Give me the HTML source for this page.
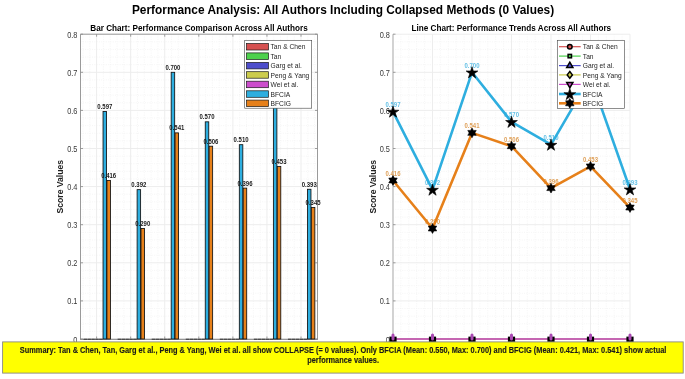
<!DOCTYPE html><html><head><meta charset="utf-8"><style>html,body{margin:0;padding:0;background:#fff;overflow:hidden;}svg{display:block;}text{font-family:"Liberation Sans",sans-serif;}</style></head><body><svg width="685" height="379" viewBox="0 0 685 379"><rect width="685" height="379" fill="#fff"/><defs><filter id="bl" x="0" y="0" width="1" height="1" color-interpolation-filters="sRGB"><feGaussianBlur stdDeviation="0.35"/></filter></defs><g filter="url(#bl)"><g transform="translate(343.00 13.80) scale(1 1.12)"><text x="0" y="0" font-size="11.9" font-weight="bold" text-anchor="middle" fill="#000">Performance Analysis: All Authors Including Collapsed Methods (0 Values)</text></g><g transform="translate(199.00 31.40) scale(1 1.12)"><text x="0" y="0" font-size="8.18" font-weight="bold" text-anchor="middle" fill="#000">Bar Chart: Performance Comparison Across All Authors</text></g><line x1="80.5" y1="331.38" x2="317.5" y2="331.38" stroke="#f4f4f4" stroke-width="0.9" stroke-dasharray="1 1.3"/><line x1="80.5" y1="323.76" x2="317.5" y2="323.76" stroke="#f4f4f4" stroke-width="0.9" stroke-dasharray="1 1.3"/><line x1="80.5" y1="316.14" x2="317.5" y2="316.14" stroke="#f4f4f4" stroke-width="0.9" stroke-dasharray="1 1.3"/><line x1="80.5" y1="308.52" x2="317.5" y2="308.52" stroke="#f4f4f4" stroke-width="0.9" stroke-dasharray="1 1.3"/><line x1="80.5" y1="293.28" x2="317.5" y2="293.28" stroke="#f4f4f4" stroke-width="0.9" stroke-dasharray="1 1.3"/><line x1="80.5" y1="285.66" x2="317.5" y2="285.66" stroke="#f4f4f4" stroke-width="0.9" stroke-dasharray="1 1.3"/><line x1="80.5" y1="278.04" x2="317.5" y2="278.04" stroke="#f4f4f4" stroke-width="0.9" stroke-dasharray="1 1.3"/><line x1="80.5" y1="270.42" x2="317.5" y2="270.42" stroke="#f4f4f4" stroke-width="0.9" stroke-dasharray="1 1.3"/><line x1="80.5" y1="255.18" x2="317.5" y2="255.18" stroke="#f4f4f4" stroke-width="0.9" stroke-dasharray="1 1.3"/><line x1="80.5" y1="247.56" x2="317.5" y2="247.56" stroke="#f4f4f4" stroke-width="0.9" stroke-dasharray="1 1.3"/><line x1="80.5" y1="239.94" x2="317.5" y2="239.94" stroke="#f4f4f4" stroke-width="0.9" stroke-dasharray="1 1.3"/><line x1="80.5" y1="232.32" x2="317.5" y2="232.32" stroke="#f4f4f4" stroke-width="0.9" stroke-dasharray="1 1.3"/><line x1="80.5" y1="217.08" x2="317.5" y2="217.08" stroke="#f4f4f4" stroke-width="0.9" stroke-dasharray="1 1.3"/><line x1="80.5" y1="209.46" x2="317.5" y2="209.46" stroke="#f4f4f4" stroke-width="0.9" stroke-dasharray="1 1.3"/><line x1="80.5" y1="201.84" x2="317.5" y2="201.84" stroke="#f4f4f4" stroke-width="0.9" stroke-dasharray="1 1.3"/><line x1="80.5" y1="194.22" x2="317.5" y2="194.22" stroke="#f4f4f4" stroke-width="0.9" stroke-dasharray="1 1.3"/><line x1="80.5" y1="178.98" x2="317.5" y2="178.98" stroke="#f4f4f4" stroke-width="0.9" stroke-dasharray="1 1.3"/><line x1="80.5" y1="171.36" x2="317.5" y2="171.36" stroke="#f4f4f4" stroke-width="0.9" stroke-dasharray="1 1.3"/><line x1="80.5" y1="163.74" x2="317.5" y2="163.74" stroke="#f4f4f4" stroke-width="0.9" stroke-dasharray="1 1.3"/><line x1="80.5" y1="156.12" x2="317.5" y2="156.12" stroke="#f4f4f4" stroke-width="0.9" stroke-dasharray="1 1.3"/><line x1="80.5" y1="140.88" x2="317.5" y2="140.88" stroke="#f4f4f4" stroke-width="0.9" stroke-dasharray="1 1.3"/><line x1="80.5" y1="133.26" x2="317.5" y2="133.26" stroke="#f4f4f4" stroke-width="0.9" stroke-dasharray="1 1.3"/><line x1="80.5" y1="125.64" x2="317.5" y2="125.64" stroke="#f4f4f4" stroke-width="0.9" stroke-dasharray="1 1.3"/><line x1="80.5" y1="118.02" x2="317.5" y2="118.02" stroke="#f4f4f4" stroke-width="0.9" stroke-dasharray="1 1.3"/><line x1="80.5" y1="102.78" x2="317.5" y2="102.78" stroke="#f4f4f4" stroke-width="0.9" stroke-dasharray="1 1.3"/><line x1="80.5" y1="95.16" x2="317.5" y2="95.16" stroke="#f4f4f4" stroke-width="0.9" stroke-dasharray="1 1.3"/><line x1="80.5" y1="87.54" x2="317.5" y2="87.54" stroke="#f4f4f4" stroke-width="0.9" stroke-dasharray="1 1.3"/><line x1="80.5" y1="79.92" x2="317.5" y2="79.92" stroke="#f4f4f4" stroke-width="0.9" stroke-dasharray="1 1.3"/><line x1="80.5" y1="64.68" x2="317.5" y2="64.68" stroke="#f4f4f4" stroke-width="0.9" stroke-dasharray="1 1.3"/><line x1="80.5" y1="57.06" x2="317.5" y2="57.06" stroke="#f4f4f4" stroke-width="0.9" stroke-dasharray="1 1.3"/><line x1="80.5" y1="49.44" x2="317.5" y2="49.44" stroke="#f4f4f4" stroke-width="0.9" stroke-dasharray="1 1.3"/><line x1="80.5" y1="41.82" x2="317.5" y2="41.82" stroke="#f4f4f4" stroke-width="0.9" stroke-dasharray="1 1.3"/><line x1="82.97" y1="34.19999999999999" x2="82.97" y2="339.0" stroke="#f4f4f4" stroke-width="0.9" stroke-dasharray="1 1.3"/><line x1="89.79" y1="34.19999999999999" x2="89.79" y2="339.0" stroke="#f4f4f4" stroke-width="0.9" stroke-dasharray="1 1.3"/><line x1="103.41" y1="34.19999999999999" x2="103.41" y2="339.0" stroke="#f4f4f4" stroke-width="0.9" stroke-dasharray="1 1.3"/><line x1="110.23" y1="34.19999999999999" x2="110.23" y2="339.0" stroke="#f4f4f4" stroke-width="0.9" stroke-dasharray="1 1.3"/><line x1="117.04" y1="34.19999999999999" x2="117.04" y2="339.0" stroke="#f4f4f4" stroke-width="0.9" stroke-dasharray="1 1.3"/><line x1="123.86" y1="34.19999999999999" x2="123.86" y2="339.0" stroke="#f4f4f4" stroke-width="0.9" stroke-dasharray="1 1.3"/><line x1="137.48" y1="34.19999999999999" x2="137.48" y2="339.0" stroke="#f4f4f4" stroke-width="0.9" stroke-dasharray="1 1.3"/><line x1="144.30" y1="34.19999999999999" x2="144.30" y2="339.0" stroke="#f4f4f4" stroke-width="0.9" stroke-dasharray="1 1.3"/><line x1="151.11" y1="34.19999999999999" x2="151.11" y2="339.0" stroke="#f4f4f4" stroke-width="0.9" stroke-dasharray="1 1.3"/><line x1="157.93" y1="34.19999999999999" x2="157.93" y2="339.0" stroke="#f4f4f4" stroke-width="0.9" stroke-dasharray="1 1.3"/><line x1="171.55" y1="34.19999999999999" x2="171.55" y2="339.0" stroke="#f4f4f4" stroke-width="0.9" stroke-dasharray="1 1.3"/><line x1="178.37" y1="34.19999999999999" x2="178.37" y2="339.0" stroke="#f4f4f4" stroke-width="0.9" stroke-dasharray="1 1.3"/><line x1="185.18" y1="34.19999999999999" x2="185.18" y2="339.0" stroke="#f4f4f4" stroke-width="0.9" stroke-dasharray="1 1.3"/><line x1="192.00" y1="34.19999999999999" x2="192.00" y2="339.0" stroke="#f4f4f4" stroke-width="0.9" stroke-dasharray="1 1.3"/><line x1="205.62" y1="34.19999999999999" x2="205.62" y2="339.0" stroke="#f4f4f4" stroke-width="0.9" stroke-dasharray="1 1.3"/><line x1="212.44" y1="34.19999999999999" x2="212.44" y2="339.0" stroke="#f4f4f4" stroke-width="0.9" stroke-dasharray="1 1.3"/><line x1="219.25" y1="34.19999999999999" x2="219.25" y2="339.0" stroke="#f4f4f4" stroke-width="0.9" stroke-dasharray="1 1.3"/><line x1="226.07" y1="34.19999999999999" x2="226.07" y2="339.0" stroke="#f4f4f4" stroke-width="0.9" stroke-dasharray="1 1.3"/><line x1="239.69" y1="34.19999999999999" x2="239.69" y2="339.0" stroke="#f4f4f4" stroke-width="0.9" stroke-dasharray="1 1.3"/><line x1="246.51" y1="34.19999999999999" x2="246.51" y2="339.0" stroke="#f4f4f4" stroke-width="0.9" stroke-dasharray="1 1.3"/><line x1="253.32" y1="34.19999999999999" x2="253.32" y2="339.0" stroke="#f4f4f4" stroke-width="0.9" stroke-dasharray="1 1.3"/><line x1="260.14" y1="34.19999999999999" x2="260.14" y2="339.0" stroke="#f4f4f4" stroke-width="0.9" stroke-dasharray="1 1.3"/><line x1="273.76" y1="34.19999999999999" x2="273.76" y2="339.0" stroke="#f4f4f4" stroke-width="0.9" stroke-dasharray="1 1.3"/><line x1="280.58" y1="34.19999999999999" x2="280.58" y2="339.0" stroke="#f4f4f4" stroke-width="0.9" stroke-dasharray="1 1.3"/><line x1="287.39" y1="34.19999999999999" x2="287.39" y2="339.0" stroke="#f4f4f4" stroke-width="0.9" stroke-dasharray="1 1.3"/><line x1="294.21" y1="34.19999999999999" x2="294.21" y2="339.0" stroke="#f4f4f4" stroke-width="0.9" stroke-dasharray="1 1.3"/><line x1="307.83" y1="34.19999999999999" x2="307.83" y2="339.0" stroke="#f4f4f4" stroke-width="0.9" stroke-dasharray="1 1.3"/><line x1="314.65" y1="34.19999999999999" x2="314.65" y2="339.0" stroke="#f4f4f4" stroke-width="0.9" stroke-dasharray="1 1.3"/><line x1="80.5" y1="339.00" x2="317.5" y2="339.00" stroke="#ededed" stroke-width="1"/><line x1="80.5" y1="300.90" x2="317.5" y2="300.90" stroke="#ededed" stroke-width="1"/><line x1="80.5" y1="262.80" x2="317.5" y2="262.80" stroke="#ededed" stroke-width="1"/><line x1="80.5" y1="224.70" x2="317.5" y2="224.70" stroke="#ededed" stroke-width="1"/><line x1="80.5" y1="186.60" x2="317.5" y2="186.60" stroke="#ededed" stroke-width="1"/><line x1="80.5" y1="148.50" x2="317.5" y2="148.50" stroke="#ededed" stroke-width="1"/><line x1="80.5" y1="110.40" x2="317.5" y2="110.40" stroke="#ededed" stroke-width="1"/><line x1="80.5" y1="72.30" x2="317.5" y2="72.30" stroke="#ededed" stroke-width="1"/><line x1="80.5" y1="34.20" x2="317.5" y2="34.20" stroke="#ededed" stroke-width="1"/><line x1="96.60" y1="34.19999999999999" x2="96.60" y2="339.0" stroke="#ededed" stroke-width="1"/><line x1="130.67" y1="34.19999999999999" x2="130.67" y2="339.0" stroke="#ededed" stroke-width="1"/><line x1="164.74" y1="34.19999999999999" x2="164.74" y2="339.0" stroke="#ededed" stroke-width="1"/><line x1="198.81" y1="34.19999999999999" x2="198.81" y2="339.0" stroke="#ededed" stroke-width="1"/><line x1="232.88" y1="34.19999999999999" x2="232.88" y2="339.0" stroke="#ededed" stroke-width="1"/><line x1="266.95" y1="34.19999999999999" x2="266.95" y2="339.0" stroke="#ededed" stroke-width="1"/><line x1="301.02" y1="34.19999999999999" x2="301.02" y2="339.0" stroke="#ededed" stroke-width="1"/><path d="M80.5 34.19999999999999 V339.0 M317.5 339.0 V34.19999999999999 H80.5" fill="none" stroke="#9a9a9a" stroke-width="1"/><line x1="80.0" y1="339.3" x2="318.0" y2="339.3" stroke="#555" stroke-width="0.75"/><line x1="83.57" y1="339.2" x2="87.07" y2="339.2" stroke="#222" stroke-width="0.9"/><line x1="87.46" y1="339.2" x2="90.96" y2="339.2" stroke="#222" stroke-width="0.9"/><line x1="91.35" y1="339.2" x2="94.86" y2="339.2" stroke="#222" stroke-width="0.9"/><line x1="95.25" y1="339.2" x2="98.75" y2="339.2" stroke="#222" stroke-width="0.9"/><line x1="99.14" y1="339.2" x2="102.65" y2="339.2" stroke="#222" stroke-width="0.9"/><rect x="103.04" y="111.54" width="3.50" height="227.46" fill="#2eaedf" stroke="#111" stroke-width="0.85"/><rect x="106.93" y="180.50" width="3.50" height="158.50" fill="#e6801a" stroke="#111" stroke-width="0.85"/><line x1="117.64" y1="339.2" x2="121.14" y2="339.2" stroke="#222" stroke-width="0.9"/><line x1="121.53" y1="339.2" x2="125.03" y2="339.2" stroke="#222" stroke-width="0.9"/><line x1="125.42" y1="339.2" x2="128.93" y2="339.2" stroke="#222" stroke-width="0.9"/><line x1="129.32" y1="339.2" x2="132.82" y2="339.2" stroke="#222" stroke-width="0.9"/><line x1="133.21" y1="339.2" x2="136.72" y2="339.2" stroke="#222" stroke-width="0.9"/><rect x="137.11" y="189.65" width="3.50" height="149.35" fill="#2eaedf" stroke="#111" stroke-width="0.85"/><rect x="141.00" y="228.51" width="3.50" height="110.49" fill="#e6801a" stroke="#111" stroke-width="0.85"/><line x1="151.71" y1="339.2" x2="155.21" y2="339.2" stroke="#222" stroke-width="0.9"/><line x1="155.60" y1="339.2" x2="159.10" y2="339.2" stroke="#222" stroke-width="0.9"/><line x1="159.49" y1="339.2" x2="163.00" y2="339.2" stroke="#222" stroke-width="0.9"/><line x1="163.39" y1="339.2" x2="166.89" y2="339.2" stroke="#222" stroke-width="0.9"/><line x1="167.28" y1="339.2" x2="170.79" y2="339.2" stroke="#222" stroke-width="0.9"/><rect x="171.18" y="72.30" width="3.50" height="266.70" fill="#2eaedf" stroke="#111" stroke-width="0.85"/><rect x="175.07" y="132.88" width="3.50" height="206.12" fill="#e6801a" stroke="#111" stroke-width="0.85"/><line x1="185.78" y1="339.2" x2="189.28" y2="339.2" stroke="#222" stroke-width="0.9"/><line x1="189.67" y1="339.2" x2="193.17" y2="339.2" stroke="#222" stroke-width="0.9"/><line x1="193.56" y1="339.2" x2="197.07" y2="339.2" stroke="#222" stroke-width="0.9"/><line x1="197.46" y1="339.2" x2="200.96" y2="339.2" stroke="#222" stroke-width="0.9"/><line x1="201.35" y1="339.2" x2="204.86" y2="339.2" stroke="#222" stroke-width="0.9"/><rect x="205.25" y="121.83" width="3.50" height="217.17" fill="#2eaedf" stroke="#111" stroke-width="0.85"/><rect x="209.14" y="146.21" width="3.50" height="192.79" fill="#e6801a" stroke="#111" stroke-width="0.85"/><line x1="219.85" y1="339.2" x2="223.35" y2="339.2" stroke="#222" stroke-width="0.9"/><line x1="223.74" y1="339.2" x2="227.24" y2="339.2" stroke="#222" stroke-width="0.9"/><line x1="227.63" y1="339.2" x2="231.14" y2="339.2" stroke="#222" stroke-width="0.9"/><line x1="231.53" y1="339.2" x2="235.03" y2="339.2" stroke="#222" stroke-width="0.9"/><line x1="235.42" y1="339.2" x2="238.93" y2="339.2" stroke="#222" stroke-width="0.9"/><rect x="239.32" y="144.69" width="3.50" height="194.31" fill="#2eaedf" stroke="#111" stroke-width="0.85"/><rect x="243.21" y="188.12" width="3.50" height="150.88" fill="#e6801a" stroke="#111" stroke-width="0.85"/><line x1="253.92" y1="339.2" x2="257.42" y2="339.2" stroke="#222" stroke-width="0.9"/><line x1="257.81" y1="339.2" x2="261.31" y2="339.2" stroke="#222" stroke-width="0.9"/><line x1="261.70" y1="339.2" x2="265.21" y2="339.2" stroke="#222" stroke-width="0.9"/><line x1="265.60" y1="339.2" x2="269.10" y2="339.2" stroke="#222" stroke-width="0.9"/><line x1="269.49" y1="339.2" x2="273.00" y2="339.2" stroke="#222" stroke-width="0.9"/><rect x="273.39" y="76.87" width="3.50" height="262.13" fill="#2eaedf" stroke="#111" stroke-width="0.85"/><rect x="277.28" y="166.41" width="3.50" height="172.59" fill="#e6801a" stroke="#111" stroke-width="0.85"/><line x1="287.99" y1="339.2" x2="291.49" y2="339.2" stroke="#222" stroke-width="0.9"/><line x1="291.88" y1="339.2" x2="295.38" y2="339.2" stroke="#222" stroke-width="0.9"/><line x1="295.77" y1="339.2" x2="299.28" y2="339.2" stroke="#222" stroke-width="0.9"/><line x1="299.67" y1="339.2" x2="303.17" y2="339.2" stroke="#222" stroke-width="0.9"/><line x1="303.56" y1="339.2" x2="307.07" y2="339.2" stroke="#222" stroke-width="0.9"/><rect x="307.46" y="189.27" width="3.50" height="149.73" fill="#2eaedf" stroke="#111" stroke-width="0.85"/><rect x="311.35" y="207.56" width="3.50" height="131.44" fill="#e6801a" stroke="#111" stroke-width="0.85"/><g transform="translate(104.79 108.94) scale(1 1.12)"><text x="0" y="0" font-size="6.0" font-weight="bold" text-anchor="middle" fill="#1a1a1a">0.597</text></g><g transform="translate(108.68 177.90) scale(1 1.12)"><text x="0" y="0" font-size="6.0" font-weight="bold" text-anchor="middle" fill="#1a1a1a">0.416</text></g><g transform="translate(138.86 187.05) scale(1 1.12)"><text x="0" y="0" font-size="6.0" font-weight="bold" text-anchor="middle" fill="#1a1a1a">0.392</text></g><g transform="translate(142.75 225.91) scale(1 1.12)"><text x="0" y="0" font-size="6.0" font-weight="bold" text-anchor="middle" fill="#1a1a1a">0.290</text></g><g transform="translate(172.93 69.70) scale(1 1.12)"><text x="0" y="0" font-size="6.0" font-weight="bold" text-anchor="middle" fill="#1a1a1a">0.700</text></g><g transform="translate(176.82 130.28) scale(1 1.12)"><text x="0" y="0" font-size="6.0" font-weight="bold" text-anchor="middle" fill="#1a1a1a">0.541</text></g><g transform="translate(207.00 119.23) scale(1 1.12)"><text x="0" y="0" font-size="6.0" font-weight="bold" text-anchor="middle" fill="#1a1a1a">0.570</text></g><g transform="translate(210.89 143.61) scale(1 1.12)"><text x="0" y="0" font-size="6.0" font-weight="bold" text-anchor="middle" fill="#1a1a1a">0.506</text></g><g transform="translate(241.07 142.09) scale(1 1.12)"><text x="0" y="0" font-size="6.0" font-weight="bold" text-anchor="middle" fill="#1a1a1a">0.510</text></g><g transform="translate(244.96 185.52) scale(1 1.12)"><text x="0" y="0" font-size="6.0" font-weight="bold" text-anchor="middle" fill="#1a1a1a">0.396</text></g><g transform="translate(275.14 74.27) scale(1 1.12)"><text x="0" y="0" font-size="6.0" font-weight="bold" text-anchor="middle" fill="#1a1a1a">0.688</text></g><g transform="translate(279.03 163.81) scale(1 1.12)"><text x="0" y="0" font-size="6.0" font-weight="bold" text-anchor="middle" fill="#1a1a1a">0.453</text></g><g transform="translate(309.21 186.67) scale(1 1.12)"><text x="0" y="0" font-size="6.0" font-weight="bold" text-anchor="middle" fill="#1a1a1a">0.393</text></g><g transform="translate(313.10 204.96) scale(1 1.12)"><text x="0" y="0" font-size="6.0" font-weight="bold" text-anchor="middle" fill="#1a1a1a">0.345</text></g><line x1="80.5" y1="339.00" x2="83.0" y2="339.00" stroke="#888" stroke-width="0.8"/><line x1="317.5" y1="339.00" x2="315.0" y2="339.00" stroke="#888" stroke-width="0.8"/><g transform="translate(77.40 342.50) scale(1 1.12)"><text x="0" y="0" font-size="7.4" font-weight="normal" text-anchor="end" fill="#383838">0</text></g><line x1="80.5" y1="300.90" x2="83.0" y2="300.90" stroke="#888" stroke-width="0.8"/><line x1="317.5" y1="300.90" x2="315.0" y2="300.90" stroke="#888" stroke-width="0.8"/><g transform="translate(77.40 304.40) scale(1 1.12)"><text x="0" y="0" font-size="7.4" font-weight="normal" text-anchor="end" fill="#383838">0.1</text></g><line x1="80.5" y1="262.80" x2="83.0" y2="262.80" stroke="#888" stroke-width="0.8"/><line x1="317.5" y1="262.80" x2="315.0" y2="262.80" stroke="#888" stroke-width="0.8"/><g transform="translate(77.40 266.30) scale(1 1.12)"><text x="0" y="0" font-size="7.4" font-weight="normal" text-anchor="end" fill="#383838">0.2</text></g><line x1="80.5" y1="224.70" x2="83.0" y2="224.70" stroke="#888" stroke-width="0.8"/><line x1="317.5" y1="224.70" x2="315.0" y2="224.70" stroke="#888" stroke-width="0.8"/><g transform="translate(77.40 228.20) scale(1 1.12)"><text x="0" y="0" font-size="7.4" font-weight="normal" text-anchor="end" fill="#383838">0.3</text></g><line x1="80.5" y1="186.60" x2="83.0" y2="186.60" stroke="#888" stroke-width="0.8"/><line x1="317.5" y1="186.60" x2="315.0" y2="186.60" stroke="#888" stroke-width="0.8"/><g transform="translate(77.40 190.10) scale(1 1.12)"><text x="0" y="0" font-size="7.4" font-weight="normal" text-anchor="end" fill="#383838">0.4</text></g><line x1="80.5" y1="148.50" x2="83.0" y2="148.50" stroke="#888" stroke-width="0.8"/><line x1="317.5" y1="148.50" x2="315.0" y2="148.50" stroke="#888" stroke-width="0.8"/><g transform="translate(77.40 152.00) scale(1 1.12)"><text x="0" y="0" font-size="7.4" font-weight="normal" text-anchor="end" fill="#383838">0.5</text></g><line x1="80.5" y1="110.40" x2="83.0" y2="110.40" stroke="#888" stroke-width="0.8"/><line x1="317.5" y1="110.40" x2="315.0" y2="110.40" stroke="#888" stroke-width="0.8"/><g transform="translate(77.40 113.90) scale(1 1.12)"><text x="0" y="0" font-size="7.4" font-weight="normal" text-anchor="end" fill="#383838">0.6</text></g><line x1="80.5" y1="72.30" x2="83.0" y2="72.30" stroke="#888" stroke-width="0.8"/><line x1="317.5" y1="72.30" x2="315.0" y2="72.30" stroke="#888" stroke-width="0.8"/><g transform="translate(77.40 75.80) scale(1 1.12)"><text x="0" y="0" font-size="7.4" font-weight="normal" text-anchor="end" fill="#383838">0.7</text></g><line x1="80.5" y1="34.20" x2="83.0" y2="34.20" stroke="#888" stroke-width="0.8"/><line x1="317.5" y1="34.20" x2="315.0" y2="34.20" stroke="#888" stroke-width="0.8"/><g transform="translate(77.40 37.70) scale(1 1.12)"><text x="0" y="0" font-size="7.4" font-weight="normal" text-anchor="end" fill="#383838">0.8</text></g><line x1="96.60" y1="34.19999999999999" x2="96.60" y2="36.69999999999999" stroke="#888" stroke-width="0.8"/><line x1="96.60" y1="339.0" x2="96.60" y2="336.5" stroke="#888" stroke-width="0.8"/><line x1="130.67" y1="34.19999999999999" x2="130.67" y2="36.69999999999999" stroke="#888" stroke-width="0.8"/><line x1="130.67" y1="339.0" x2="130.67" y2="336.5" stroke="#888" stroke-width="0.8"/><line x1="164.74" y1="34.19999999999999" x2="164.74" y2="36.69999999999999" stroke="#888" stroke-width="0.8"/><line x1="164.74" y1="339.0" x2="164.74" y2="336.5" stroke="#888" stroke-width="0.8"/><line x1="198.81" y1="34.19999999999999" x2="198.81" y2="36.69999999999999" stroke="#888" stroke-width="0.8"/><line x1="198.81" y1="339.0" x2="198.81" y2="336.5" stroke="#888" stroke-width="0.8"/><line x1="232.88" y1="34.19999999999999" x2="232.88" y2="36.69999999999999" stroke="#888" stroke-width="0.8"/><line x1="232.88" y1="339.0" x2="232.88" y2="336.5" stroke="#888" stroke-width="0.8"/><line x1="266.95" y1="34.19999999999999" x2="266.95" y2="36.69999999999999" stroke="#888" stroke-width="0.8"/><line x1="266.95" y1="339.0" x2="266.95" y2="336.5" stroke="#888" stroke-width="0.8"/><line x1="301.02" y1="34.19999999999999" x2="301.02" y2="36.69999999999999" stroke="#888" stroke-width="0.8"/><line x1="301.02" y1="339.0" x2="301.02" y2="336.5" stroke="#888" stroke-width="0.8"/><g transform="translate(63.10 186.70) rotate(-90) scale(1.0 1)"><text x="0" y="0" font-size="8.6" font-weight="bold" text-anchor="middle" fill="#222">Score Values</text></g><rect x="244.7" y="40.3" width="67.0" height="67.9" fill="#fff" stroke="#444" stroke-width="0.6"/><rect x="246.5" y="43.50" width="22" height="6.5" fill="#d65151" stroke="#1a1a1a" stroke-width="0.7"/><g transform="translate(270.50 49.30) scale(1 1.12)"><text x="0" y="0" font-size="6.7" font-weight="normal" text-anchor="start" fill="#1e1e1e">Tan &amp; Chen</text></g><rect x="246.5" y="52.90" width="22" height="6.5" fill="#4dd14d" stroke="#1a1a1a" stroke-width="0.7"/><g transform="translate(270.50 58.70) scale(1 1.12)"><text x="0" y="0" font-size="6.7" font-weight="normal" text-anchor="start" fill="#1e1e1e">Tan</text></g><rect x="246.5" y="62.40" width="22" height="6.5" fill="#4d4dcc" stroke="#1a1a1a" stroke-width="0.7"/><g transform="translate(270.50 68.20) scale(1 1.12)"><text x="0" y="0" font-size="6.7" font-weight="normal" text-anchor="start" fill="#1e1e1e">Garg et al.</text></g><rect x="246.5" y="71.70" width="22" height="6.5" fill="#cccc4d" stroke="#1a1a1a" stroke-width="0.7"/><g transform="translate(270.50 77.50) scale(1 1.12)"><text x="0" y="0" font-size="6.7" font-weight="normal" text-anchor="start" fill="#1e1e1e">Peng &amp; Yang</text></g><rect x="246.5" y="81.20" width="22" height="6.5" fill="#cc4dcc" stroke="#1a1a1a" stroke-width="0.7"/><g transform="translate(270.50 87.00) scale(1 1.12)"><text x="0" y="0" font-size="6.7" font-weight="normal" text-anchor="start" fill="#1e1e1e">Wei et al.</text></g><rect x="246.5" y="90.80" width="22" height="6.5" fill="#2eaedf" stroke="#1a1a1a" stroke-width="0.7"/><g transform="translate(270.50 96.60) scale(1 1.12)"><text x="0" y="0" font-size="6.7" font-weight="normal" text-anchor="start" fill="#1e1e1e">BFCIA</text></g><rect x="246.5" y="100.10" width="22" height="6.5" fill="#e6801a" stroke="#1a1a1a" stroke-width="0.7"/><g transform="translate(270.50 105.90) scale(1 1.12)"><text x="0" y="0" font-size="6.7" font-weight="normal" text-anchor="start" fill="#1e1e1e">BFCIG</text></g><g transform="translate(511.30 31.40) scale(1 1.12)"><text x="0" y="0" font-size="8.18" font-weight="bold" text-anchor="middle" fill="#000">Line Chart: Performance Trends Across All Authors</text></g><line x1="393.0" y1="331.38" x2="630.0" y2="331.38" stroke="#f4f4f4" stroke-width="0.9" stroke-dasharray="1 1.3"/><line x1="393.0" y1="323.76" x2="630.0" y2="323.76" stroke="#f4f4f4" stroke-width="0.9" stroke-dasharray="1 1.3"/><line x1="393.0" y1="316.14" x2="630.0" y2="316.14" stroke="#f4f4f4" stroke-width="0.9" stroke-dasharray="1 1.3"/><line x1="393.0" y1="308.52" x2="630.0" y2="308.52" stroke="#f4f4f4" stroke-width="0.9" stroke-dasharray="1 1.3"/><line x1="393.0" y1="293.28" x2="630.0" y2="293.28" stroke="#f4f4f4" stroke-width="0.9" stroke-dasharray="1 1.3"/><line x1="393.0" y1="285.66" x2="630.0" y2="285.66" stroke="#f4f4f4" stroke-width="0.9" stroke-dasharray="1 1.3"/><line x1="393.0" y1="278.04" x2="630.0" y2="278.04" stroke="#f4f4f4" stroke-width="0.9" stroke-dasharray="1 1.3"/><line x1="393.0" y1="270.42" x2="630.0" y2="270.42" stroke="#f4f4f4" stroke-width="0.9" stroke-dasharray="1 1.3"/><line x1="393.0" y1="255.18" x2="630.0" y2="255.18" stroke="#f4f4f4" stroke-width="0.9" stroke-dasharray="1 1.3"/><line x1="393.0" y1="247.56" x2="630.0" y2="247.56" stroke="#f4f4f4" stroke-width="0.9" stroke-dasharray="1 1.3"/><line x1="393.0" y1="239.94" x2="630.0" y2="239.94" stroke="#f4f4f4" stroke-width="0.9" stroke-dasharray="1 1.3"/><line x1="393.0" y1="232.32" x2="630.0" y2="232.32" stroke="#f4f4f4" stroke-width="0.9" stroke-dasharray="1 1.3"/><line x1="393.0" y1="217.08" x2="630.0" y2="217.08" stroke="#f4f4f4" stroke-width="0.9" stroke-dasharray="1 1.3"/><line x1="393.0" y1="209.46" x2="630.0" y2="209.46" stroke="#f4f4f4" stroke-width="0.9" stroke-dasharray="1 1.3"/><line x1="393.0" y1="201.84" x2="630.0" y2="201.84" stroke="#f4f4f4" stroke-width="0.9" stroke-dasharray="1 1.3"/><line x1="393.0" y1="194.22" x2="630.0" y2="194.22" stroke="#f4f4f4" stroke-width="0.9" stroke-dasharray="1 1.3"/><line x1="393.0" y1="178.98" x2="630.0" y2="178.98" stroke="#f4f4f4" stroke-width="0.9" stroke-dasharray="1 1.3"/><line x1="393.0" y1="171.36" x2="630.0" y2="171.36" stroke="#f4f4f4" stroke-width="0.9" stroke-dasharray="1 1.3"/><line x1="393.0" y1="163.74" x2="630.0" y2="163.74" stroke="#f4f4f4" stroke-width="0.9" stroke-dasharray="1 1.3"/><line x1="393.0" y1="156.12" x2="630.0" y2="156.12" stroke="#f4f4f4" stroke-width="0.9" stroke-dasharray="1 1.3"/><line x1="393.0" y1="140.88" x2="630.0" y2="140.88" stroke="#f4f4f4" stroke-width="0.9" stroke-dasharray="1 1.3"/><line x1="393.0" y1="133.26" x2="630.0" y2="133.26" stroke="#f4f4f4" stroke-width="0.9" stroke-dasharray="1 1.3"/><line x1="393.0" y1="125.64" x2="630.0" y2="125.64" stroke="#f4f4f4" stroke-width="0.9" stroke-dasharray="1 1.3"/><line x1="393.0" y1="118.02" x2="630.0" y2="118.02" stroke="#f4f4f4" stroke-width="0.9" stroke-dasharray="1 1.3"/><line x1="393.0" y1="102.78" x2="630.0" y2="102.78" stroke="#f4f4f4" stroke-width="0.9" stroke-dasharray="1 1.3"/><line x1="393.0" y1="95.16" x2="630.0" y2="95.16" stroke="#f4f4f4" stroke-width="0.9" stroke-dasharray="1 1.3"/><line x1="393.0" y1="87.54" x2="630.0" y2="87.54" stroke="#f4f4f4" stroke-width="0.9" stroke-dasharray="1 1.3"/><line x1="393.0" y1="79.92" x2="630.0" y2="79.92" stroke="#f4f4f4" stroke-width="0.9" stroke-dasharray="1 1.3"/><line x1="393.0" y1="64.68" x2="630.0" y2="64.68" stroke="#f4f4f4" stroke-width="0.9" stroke-dasharray="1 1.3"/><line x1="393.0" y1="57.06" x2="630.0" y2="57.06" stroke="#f4f4f4" stroke-width="0.9" stroke-dasharray="1 1.3"/><line x1="393.0" y1="49.44" x2="630.0" y2="49.44" stroke="#f4f4f4" stroke-width="0.9" stroke-dasharray="1 1.3"/><line x1="393.0" y1="41.82" x2="630.0" y2="41.82" stroke="#f4f4f4" stroke-width="0.9" stroke-dasharray="1 1.3"/><line x1="400.90" y1="34.19999999999999" x2="400.90" y2="339.0" stroke="#f4f4f4" stroke-width="0.9" stroke-dasharray="1 1.3"/><line x1="408.80" y1="34.19999999999999" x2="408.80" y2="339.0" stroke="#f4f4f4" stroke-width="0.9" stroke-dasharray="1 1.3"/><line x1="416.70" y1="34.19999999999999" x2="416.70" y2="339.0" stroke="#f4f4f4" stroke-width="0.9" stroke-dasharray="1 1.3"/><line x1="424.60" y1="34.19999999999999" x2="424.60" y2="339.0" stroke="#f4f4f4" stroke-width="0.9" stroke-dasharray="1 1.3"/><line x1="440.40" y1="34.19999999999999" x2="440.40" y2="339.0" stroke="#f4f4f4" stroke-width="0.9" stroke-dasharray="1 1.3"/><line x1="448.30" y1="34.19999999999999" x2="448.30" y2="339.0" stroke="#f4f4f4" stroke-width="0.9" stroke-dasharray="1 1.3"/><line x1="456.20" y1="34.19999999999999" x2="456.20" y2="339.0" stroke="#f4f4f4" stroke-width="0.9" stroke-dasharray="1 1.3"/><line x1="464.10" y1="34.19999999999999" x2="464.10" y2="339.0" stroke="#f4f4f4" stroke-width="0.9" stroke-dasharray="1 1.3"/><line x1="479.90" y1="34.19999999999999" x2="479.90" y2="339.0" stroke="#f4f4f4" stroke-width="0.9" stroke-dasharray="1 1.3"/><line x1="487.80" y1="34.19999999999999" x2="487.80" y2="339.0" stroke="#f4f4f4" stroke-width="0.9" stroke-dasharray="1 1.3"/><line x1="495.70" y1="34.19999999999999" x2="495.70" y2="339.0" stroke="#f4f4f4" stroke-width="0.9" stroke-dasharray="1 1.3"/><line x1="503.60" y1="34.19999999999999" x2="503.60" y2="339.0" stroke="#f4f4f4" stroke-width="0.9" stroke-dasharray="1 1.3"/><line x1="519.40" y1="34.19999999999999" x2="519.40" y2="339.0" stroke="#f4f4f4" stroke-width="0.9" stroke-dasharray="1 1.3"/><line x1="527.30" y1="34.19999999999999" x2="527.30" y2="339.0" stroke="#f4f4f4" stroke-width="0.9" stroke-dasharray="1 1.3"/><line x1="535.20" y1="34.19999999999999" x2="535.20" y2="339.0" stroke="#f4f4f4" stroke-width="0.9" stroke-dasharray="1 1.3"/><line x1="543.10" y1="34.19999999999999" x2="543.10" y2="339.0" stroke="#f4f4f4" stroke-width="0.9" stroke-dasharray="1 1.3"/><line x1="558.90" y1="34.19999999999999" x2="558.90" y2="339.0" stroke="#f4f4f4" stroke-width="0.9" stroke-dasharray="1 1.3"/><line x1="566.80" y1="34.19999999999999" x2="566.80" y2="339.0" stroke="#f4f4f4" stroke-width="0.9" stroke-dasharray="1 1.3"/><line x1="574.70" y1="34.19999999999999" x2="574.70" y2="339.0" stroke="#f4f4f4" stroke-width="0.9" stroke-dasharray="1 1.3"/><line x1="582.60" y1="34.19999999999999" x2="582.60" y2="339.0" stroke="#f4f4f4" stroke-width="0.9" stroke-dasharray="1 1.3"/><line x1="598.40" y1="34.19999999999999" x2="598.40" y2="339.0" stroke="#f4f4f4" stroke-width="0.9" stroke-dasharray="1 1.3"/><line x1="606.30" y1="34.19999999999999" x2="606.30" y2="339.0" stroke="#f4f4f4" stroke-width="0.9" stroke-dasharray="1 1.3"/><line x1="614.20" y1="34.19999999999999" x2="614.20" y2="339.0" stroke="#f4f4f4" stroke-width="0.9" stroke-dasharray="1 1.3"/><line x1="622.10" y1="34.19999999999999" x2="622.10" y2="339.0" stroke="#f4f4f4" stroke-width="0.9" stroke-dasharray="1 1.3"/><line x1="393.0" y1="339.00" x2="630.0" y2="339.00" stroke="#ededed" stroke-width="1"/><line x1="393.0" y1="300.90" x2="630.0" y2="300.90" stroke="#ededed" stroke-width="1"/><line x1="393.0" y1="262.80" x2="630.0" y2="262.80" stroke="#ededed" stroke-width="1"/><line x1="393.0" y1="224.70" x2="630.0" y2="224.70" stroke="#ededed" stroke-width="1"/><line x1="393.0" y1="186.60" x2="630.0" y2="186.60" stroke="#ededed" stroke-width="1"/><line x1="393.0" y1="148.50" x2="630.0" y2="148.50" stroke="#ededed" stroke-width="1"/><line x1="393.0" y1="110.40" x2="630.0" y2="110.40" stroke="#ededed" stroke-width="1"/><line x1="393.0" y1="72.30" x2="630.0" y2="72.30" stroke="#ededed" stroke-width="1"/><line x1="393.0" y1="34.20" x2="630.0" y2="34.20" stroke="#ededed" stroke-width="1"/><line x1="393.00" y1="34.19999999999999" x2="393.00" y2="339.0" stroke="#ededed" stroke-width="1"/><line x1="432.50" y1="34.19999999999999" x2="432.50" y2="339.0" stroke="#ededed" stroke-width="1"/><line x1="472.00" y1="34.19999999999999" x2="472.00" y2="339.0" stroke="#ededed" stroke-width="1"/><line x1="511.50" y1="34.19999999999999" x2="511.50" y2="339.0" stroke="#ededed" stroke-width="1"/><line x1="551.00" y1="34.19999999999999" x2="551.00" y2="339.0" stroke="#ededed" stroke-width="1"/><line x1="590.50" y1="34.19999999999999" x2="590.50" y2="339.0" stroke="#ededed" stroke-width="1"/><line x1="630.00" y1="34.19999999999999" x2="630.00" y2="339.0" stroke="#ededed" stroke-width="1"/><line x1="393.0" y1="34.19999999999999" x2="393.0" y2="339.0" stroke="#c4c4c4" stroke-width="1.4"/><line x1="393.0" y1="339.00" x2="395.5" y2="339.00" stroke="#888" stroke-width="0.8"/><g transform="translate(389.90 342.50) scale(1 1.12)"><text x="0" y="0" font-size="7.4" font-weight="normal" text-anchor="end" fill="#383838">0</text></g><line x1="393.0" y1="300.90" x2="395.5" y2="300.90" stroke="#888" stroke-width="0.8"/><g transform="translate(389.90 304.40) scale(1 1.12)"><text x="0" y="0" font-size="7.4" font-weight="normal" text-anchor="end" fill="#383838">0.1</text></g><line x1="393.0" y1="262.80" x2="395.5" y2="262.80" stroke="#888" stroke-width="0.8"/><g transform="translate(389.90 266.30) scale(1 1.12)"><text x="0" y="0" font-size="7.4" font-weight="normal" text-anchor="end" fill="#383838">0.2</text></g><line x1="393.0" y1="224.70" x2="395.5" y2="224.70" stroke="#888" stroke-width="0.8"/><g transform="translate(389.90 228.20) scale(1 1.12)"><text x="0" y="0" font-size="7.4" font-weight="normal" text-anchor="end" fill="#383838">0.3</text></g><line x1="393.0" y1="186.60" x2="395.5" y2="186.60" stroke="#888" stroke-width="0.8"/><g transform="translate(389.90 190.10) scale(1 1.12)"><text x="0" y="0" font-size="7.4" font-weight="normal" text-anchor="end" fill="#383838">0.4</text></g><line x1="393.0" y1="148.50" x2="395.5" y2="148.50" stroke="#888" stroke-width="0.8"/><g transform="translate(389.90 152.00) scale(1 1.12)"><text x="0" y="0" font-size="7.4" font-weight="normal" text-anchor="end" fill="#383838">0.5</text></g><line x1="393.0" y1="110.40" x2="395.5" y2="110.40" stroke="#888" stroke-width="0.8"/><g transform="translate(389.90 113.90) scale(1 1.12)"><text x="0" y="0" font-size="7.4" font-weight="normal" text-anchor="end" fill="#383838">0.6</text></g><line x1="393.0" y1="72.30" x2="395.5" y2="72.30" stroke="#888" stroke-width="0.8"/><g transform="translate(389.90 75.80) scale(1 1.12)"><text x="0" y="0" font-size="7.4" font-weight="normal" text-anchor="end" fill="#383838">0.7</text></g><line x1="393.0" y1="34.20" x2="395.5" y2="34.20" stroke="#888" stroke-width="0.8"/><g transform="translate(389.90 37.70) scale(1 1.12)"><text x="0" y="0" font-size="7.4" font-weight="normal" text-anchor="end" fill="#383838">0.8</text></g><g transform="translate(376.30 186.70) rotate(-90) scale(1.0 1)"><text x="0" y="0" font-size="8.6" font-weight="bold" text-anchor="middle" fill="#222">Score Values</text></g><polyline points="393.00,339.00 432.50,339.00 472.00,339.00 511.50,339.00 551.00,339.00 590.50,339.00 630.00,339.00" fill="none" stroke="#d65151" stroke-width="1.6"/><polyline points="393.00,339.00 432.50,339.00 472.00,339.00 511.50,339.00 551.00,339.00 590.50,339.00 630.00,339.00" fill="none" stroke="#4dd14d" stroke-width="1.6"/><polyline points="393.00,339.00 432.50,339.00 472.00,339.00 511.50,339.00 551.00,339.00 590.50,339.00 630.00,339.00" fill="none" stroke="#4d4dcc" stroke-width="1.6"/><polyline points="393.00,339.00 432.50,339.00 472.00,339.00 511.50,339.00 551.00,339.00 590.50,339.00 630.00,339.00" fill="none" stroke="#cccc4d" stroke-width="1.6"/><polyline points="393.00,339.00 432.50,339.00 472.00,339.00 511.50,339.00 551.00,339.00 590.50,339.00 630.00,339.00" fill="none" stroke="#cc4dcc" stroke-width="1.6"/><path d="M389.40 336.6 H396.60 V343 H389.40 Z" fill="#000"/><rect x="391.50" y="333.4" width="3" height="7" rx="1.5" fill="#a948b2"/><path d="M428.90 336.6 H436.10 V343 H428.90 Z" fill="#000"/><rect x="431.00" y="333.4" width="3" height="7" rx="1.5" fill="#a948b2"/><path d="M468.40 336.6 H475.60 V343 H468.40 Z" fill="#000"/><rect x="470.50" y="333.4" width="3" height="7" rx="1.5" fill="#a948b2"/><path d="M507.90 336.6 H515.10 V343 H507.90 Z" fill="#000"/><rect x="510.00" y="333.4" width="3" height="7" rx="1.5" fill="#a948b2"/><path d="M547.40 336.6 H554.60 V343 H547.40 Z" fill="#000"/><rect x="549.50" y="333.4" width="3" height="7" rx="1.5" fill="#a948b2"/><path d="M586.90 336.6 H594.10 V343 H586.90 Z" fill="#000"/><rect x="589.00" y="333.4" width="3" height="7" rx="1.5" fill="#a948b2"/><path d="M626.40 336.6 H633.60 V343 H626.40 Z" fill="#000"/><rect x="628.50" y="333.4" width="3" height="7" rx="1.5" fill="#a948b2"/><g transform="translate(393.00 107.14) scale(1 1.12)"><text x="0" y="0" font-size="6.0" font-weight="bold" text-anchor="middle" fill="#66c1e6">0.597</text></g><g transform="translate(432.50 185.25) scale(1 1.12)"><text x="0" y="0" font-size="6.0" font-weight="bold" text-anchor="middle" fill="#66c1e6">0.392</text></g><g transform="translate(472.00 67.90) scale(1 1.12)"><text x="0" y="0" font-size="6.0" font-weight="bold" text-anchor="middle" fill="#66c1e6">0.700</text></g><g transform="translate(511.50 117.43) scale(1 1.12)"><text x="0" y="0" font-size="6.0" font-weight="bold" text-anchor="middle" fill="#66c1e6">0.570</text></g><g transform="translate(551.00 140.29) scale(1 1.12)"><text x="0" y="0" font-size="6.0" font-weight="bold" text-anchor="middle" fill="#66c1e6">0.510</text></g><g transform="translate(590.50 72.47) scale(1 1.12)"><text x="0" y="0" font-size="6.0" font-weight="bold" text-anchor="middle" fill="#66c1e6">0.688</text></g><g transform="translate(630.00 184.87) scale(1 1.12)"><text x="0" y="0" font-size="6.0" font-weight="bold" text-anchor="middle" fill="#66c1e6">0.393</text></g><g transform="translate(393.00 176.10) scale(1 1.12)"><text x="0" y="0" font-size="6.0" font-weight="bold" text-anchor="middle" fill="#dfa15a">0.416</text></g><g transform="translate(432.50 224.11) scale(1 1.12)"><text x="0" y="0" font-size="6.0" font-weight="bold" text-anchor="middle" fill="#dfa15a">0.290</text></g><g transform="translate(472.00 128.48) scale(1 1.12)"><text x="0" y="0" font-size="6.0" font-weight="bold" text-anchor="middle" fill="#dfa15a">0.541</text></g><g transform="translate(511.50 141.81) scale(1 1.12)"><text x="0" y="0" font-size="6.0" font-weight="bold" text-anchor="middle" fill="#dfa15a">0.506</text></g><g transform="translate(551.00 183.72) scale(1 1.12)"><text x="0" y="0" font-size="6.0" font-weight="bold" text-anchor="middle" fill="#dfa15a">0.396</text></g><g transform="translate(590.50 162.01) scale(1 1.12)"><text x="0" y="0" font-size="6.0" font-weight="bold" text-anchor="middle" fill="#dfa15a">0.453</text></g><g transform="translate(630.00 203.16) scale(1 1.12)"><text x="0" y="0" font-size="6.0" font-weight="bold" text-anchor="middle" fill="#dfa15a">0.345</text></g><polyline points="393.00,111.54 432.50,189.65 472.00,72.30 511.50,121.83 551.00,144.69 590.50,76.87 630.00,189.27" fill="none" stroke="#2eaedf" stroke-width="2.6" stroke-linejoin="round"/><polyline points="393.00,180.50 432.50,228.51 472.00,132.88 511.50,146.21 551.00,188.12 590.50,166.41 630.00,207.56" fill="none" stroke="#e6801a" stroke-width="2.6" stroke-linejoin="round"/><polygon points="393.00,105.94 394.39,110.23 398.90,110.23 395.25,112.87 396.64,117.16 393.00,114.51 389.36,117.16 390.75,112.87 387.10,110.23 391.61,110.23" fill="#000" stroke="#000" stroke-width="0.6"/><polygon points="432.50,184.05 433.89,188.33 438.40,188.33 434.75,190.98 436.14,195.26 432.50,192.62 428.86,195.26 430.25,190.98 426.60,188.33 431.11,188.33" fill="#000" stroke="#000" stroke-width="0.6"/><polygon points="472.00,66.70 473.39,70.98 477.90,70.98 474.25,73.63 475.64,77.92 472.00,75.27 468.36,77.92 469.75,73.63 466.10,70.98 470.61,70.98" fill="#000" stroke="#000" stroke-width="0.6"/><polygon points="511.50,116.23 512.89,120.51 517.40,120.51 513.75,123.16 515.14,127.45 511.50,124.80 507.86,127.45 509.25,123.16 505.60,120.51 510.11,120.51" fill="#000" stroke="#000" stroke-width="0.6"/><polygon points="551.00,139.09 552.39,143.37 556.90,143.37 553.25,146.02 554.64,150.31 551.00,147.66 547.36,150.31 548.75,146.02 545.10,143.37 549.61,143.37" fill="#000" stroke="#000" stroke-width="0.6"/><polygon points="590.50,71.27 591.89,75.56 596.40,75.56 592.75,78.20 594.14,82.49 590.50,79.84 586.86,82.49 588.25,78.20 584.60,75.56 589.11,75.56" fill="#000" stroke="#000" stroke-width="0.6"/><polygon points="630.00,183.67 631.39,187.95 635.90,187.95 632.25,190.60 633.64,194.88 630.00,192.24 626.36,194.88 627.75,190.60 624.10,187.95 628.61,187.95" fill="#000" stroke="#000" stroke-width="0.6"/><polygon points="393.00,175.60 394.41,178.06 397.24,178.05 395.83,180.50 397.24,182.95 394.41,182.95 393.00,185.40 391.59,182.95 388.76,182.95 390.17,180.50 388.76,178.05 391.59,178.06" fill="#000" stroke="#000" stroke-width="0.6"/><polygon points="432.50,223.61 433.91,226.06 436.74,226.06 435.33,228.51 436.74,230.96 433.91,230.96 432.50,233.41 431.09,230.96 428.26,230.96 429.67,228.51 428.26,226.06 431.09,226.06" fill="#000" stroke="#000" stroke-width="0.6"/><polygon points="472.00,127.98 473.41,130.43 476.24,130.43 474.83,132.88 476.24,135.33 473.41,135.33 472.00,137.78 470.59,135.33 467.76,135.33 469.17,132.88 467.76,130.43 470.59,130.43" fill="#000" stroke="#000" stroke-width="0.6"/><polygon points="511.50,141.31 512.91,143.77 515.74,143.76 514.33,146.21 515.74,148.66 512.91,148.66 511.50,151.11 510.09,148.66 507.26,148.66 508.67,146.21 507.26,143.76 510.09,143.77" fill="#000" stroke="#000" stroke-width="0.6"/><polygon points="551.00,183.22 552.41,185.68 555.24,185.67 553.83,188.12 555.24,190.57 552.41,190.57 551.00,193.02 549.59,190.57 546.76,190.57 548.17,188.12 546.76,185.67 549.59,185.68" fill="#000" stroke="#000" stroke-width="0.6"/><polygon points="590.50,161.51 591.91,163.96 594.74,163.96 593.33,166.41 594.74,168.86 591.91,168.86 590.50,171.31 589.09,168.86 586.26,168.86 587.67,166.41 586.26,163.96 589.09,163.96" fill="#000" stroke="#000" stroke-width="0.6"/><polygon points="630.00,202.66 631.41,205.11 634.24,205.11 632.83,207.56 634.24,210.00 631.41,210.00 630.00,212.46 628.59,210.00 625.76,210.00 627.17,207.56 625.76,205.11 628.59,205.11" fill="#000" stroke="#000" stroke-width="0.6"/><rect x="557.3" y="40.3" width="67.0" height="68.0" fill="#fff" stroke="#444" stroke-width="0.6"/><line x1="559" y1="46.70" x2="580.7" y2="46.70" stroke="#d65151" stroke-width="1.2"/><circle cx="569.80" cy="46.70" r="2.30" fill="#d65151" stroke="#000" stroke-width="1.5"/><g transform="translate(582.80 49.30) scale(1 1.12)"><text x="0" y="0" font-size="6.7" font-weight="normal" text-anchor="start" fill="#1e1e1e">Tan &amp; Chen</text></g><line x1="559" y1="56.10" x2="580.7" y2="56.10" stroke="#4dd14d" stroke-width="1.2"/><rect x="568.10" y="54.40" width="3.40" height="3.40" fill="#4dd14d" stroke="#000" stroke-width="1.5"/><g transform="translate(582.80 58.70) scale(1 1.12)"><text x="0" y="0" font-size="6.7" font-weight="normal" text-anchor="start" fill="#1e1e1e">Tan</text></g><line x1="559" y1="65.60" x2="580.7" y2="65.60" stroke="#4d4dcc" stroke-width="1.2"/><polygon points="569.80,62.20 572.90,67.60 566.70,67.60" fill="#4d4dcc" stroke="#000" stroke-width="1.5"/><g transform="translate(582.80 68.20) scale(1 1.12)"><text x="0" y="0" font-size="6.7" font-weight="normal" text-anchor="start" fill="#1e1e1e">Garg et al.</text></g><line x1="559" y1="74.90" x2="580.7" y2="74.90" stroke="#cccc4d" stroke-width="1.2"/><polygon points="569.80,71.50 572.40,74.90 569.80,78.30 567.20,74.90" fill="#cccc4d" stroke="#000" stroke-width="1.5"/><g transform="translate(582.80 77.50) scale(1 1.12)"><text x="0" y="0" font-size="6.7" font-weight="normal" text-anchor="start" fill="#1e1e1e">Peng &amp; Yang</text></g><line x1="559" y1="84.40" x2="580.7" y2="84.40" stroke="#cc4dcc" stroke-width="1.2"/><polygon points="569.80,87.80 572.90,82.40 566.70,82.40" fill="#cc4dcc" stroke="#000" stroke-width="1.5"/><g transform="translate(582.80 87.00) scale(1 1.12)"><text x="0" y="0" font-size="6.7" font-weight="normal" text-anchor="start" fill="#1e1e1e">Wei et al.</text></g><line x1="559" y1="94.00" x2="580.7" y2="94.00" stroke="#2eaedf" stroke-width="2.6"/><polygon points="569.80,88.40 571.19,92.68 575.70,92.68 572.05,95.33 573.44,99.62 569.80,96.97 566.16,99.62 567.55,95.33 563.90,92.68 568.41,92.68" fill="#000" stroke="#000" stroke-width="0.6"/><g transform="translate(582.80 96.60) scale(1 1.12)"><text x="0" y="0" font-size="6.7" font-weight="normal" text-anchor="start" fill="#1e1e1e">BFCIA</text></g><line x1="559" y1="103.30" x2="580.7" y2="103.30" stroke="#e6801a" stroke-width="2.6"/><polygon points="569.80,98.40 571.21,100.85 574.04,100.85 572.63,103.30 574.04,105.75 571.21,105.75 569.80,108.20 568.39,105.75 565.56,105.75 566.97,103.30 565.56,100.85 568.39,100.85" fill="#000" stroke="#000" stroke-width="0.6"/><g transform="translate(582.80 105.90) scale(1 1.12)"><text x="0" y="0" font-size="6.7" font-weight="normal" text-anchor="start" fill="#1e1e1e">BFCIG</text></g><rect x="2.6" y="341.9" width="680.6" height="31.2" fill="#ffff00" stroke="#888888" stroke-width="0.9"/><g transform="translate(343.10 352.70) scale(1 1.2)"><text x="0" y="0" font-size="7.4" font-weight="bold" text-anchor="middle" fill="#1a1a1a" stroke="#1a1a1a" stroke-width="0.12">Summary: Tan &amp; Chen, Tan, Garg et al., Peng &amp; Yang, Wei et al. all show COLLAPSE (= 0 values). Only BFCIA (Mean: 0.550, Max: 0.700) and BFCIG (Mean: 0.421, Max: 0.541) show actual</text></g><g transform="translate(343.10 363.20) scale(1 1.2)"><text x="0" y="0" font-size="7.4" font-weight="bold" text-anchor="middle" fill="#1a1a1a" stroke="#1a1a1a" stroke-width="0.12">performance values.</text></g></g></svg></body></html>
